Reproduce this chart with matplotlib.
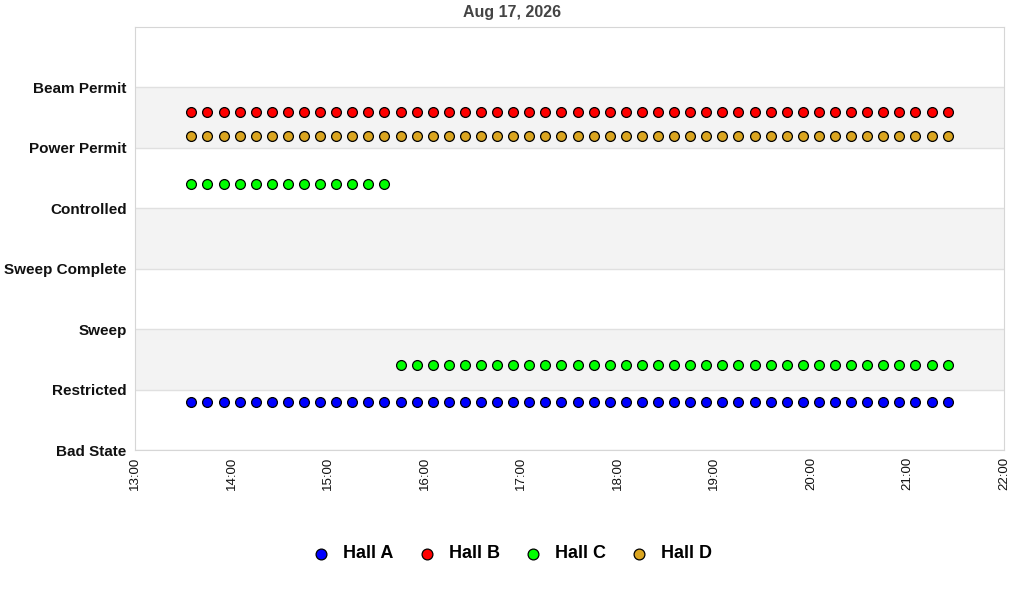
import matplotlib
matplotlib.use("Agg")
import matplotlib.pyplot as plt
import matplotlib.dates as mdates
import pandas as pd

plt.rcParams['font.family'] = ['Liberation Sans', 'DejaVu Sans']

# state axis, bottom to top
states = ["Bad State", "Restricted", "Sweep", "Sweep Complete",
          "Controlled", "Power Permit", "Beam Permit"]

# sample times, every 10 min
times = pd.date_range("2026-08-17 13:35", "2026-08-17 21:25", freq="10min")

hall_a = ["Restricted"] * 48
hall_b = ["Power Permit"] * 48
hall_c = ["Controlled"] * 13 + ["Restricted"] * 35
hall_d = ["Power Permit"] * 48

halls = ["Hall A", "Hall B", "Hall C", "Hall D"]
colors = ["#0000ff", "#ff0000", "#00ff00", "#daa520"]
offsets = [-0.2, 0.6, 0.4, 0.2]   # vertical spread so halls don't overlap
series = [hall_a, hall_b, hall_c, hall_d]

fig = plt.figure(figsize=(10.24, 6.0), dpi=100)
ax = fig.add_axes([135 / 1024, 1 - 450 / 600, 869 / 1024, 423 / 600])

for lo in (1, 3, 5):
    ax.axhspan(lo, lo + 1, color="#f3f3f3", zorder=0, lw=0)

for name, col, off, vals in zip(halls, colors, offsets, series):
    y = [states.index(v) + off for v in vals]
    ax.scatter(times[:len(y)], y, s=50, c=col, edgecolors="black",
               linewidths=0.9, label=name, zorder=3)

ax.set_ylim(0, 7)
ax.set_yticks(range(len(states)))
ax.set_yticklabels(states, fontsize=11, fontweight="bold", color="#111111")
ax.grid(axis="y", color="#e0e0e0", lw=1, zorder=1)
ax.set_axisbelow(True)

ax.set_xlim(pd.Timestamp("2026-08-17 13:00"), pd.Timestamp("2026-08-17 22:00"))
ax.xaxis.set_major_locator(mdates.HourLocator())
ax.xaxis.set_major_formatter(mdates.DateFormatter("%H:%M"))
plt.setp(ax.get_xticklabels(), rotation=90, fontsize=9.5, color="#111111")
ax.tick_params(axis="both", length=0)
ax.tick_params(axis="x", pad=5)
ax.tick_params(axis="y", pad=6)

for sp in ax.spines.values():
    sp.set_color("#d6d6d6")

fig.text(0.5, 1 - 12 / 600, "Aug 17, 2026", ha="center", va="center",
         fontsize=11.5, fontweight="bold", color="#444444")

fig.legend(loc="center", bbox_to_anchor=(0.5, 1 - 554 / 600), ncol=4, frameon=False,
           prop={"size": 13, "weight": "bold"}, handlelength=1.0,
           handletextpad=0.7, columnspacing=1.35, markerscale=1.1)

fig.savefig("out.png", dpi=100)
